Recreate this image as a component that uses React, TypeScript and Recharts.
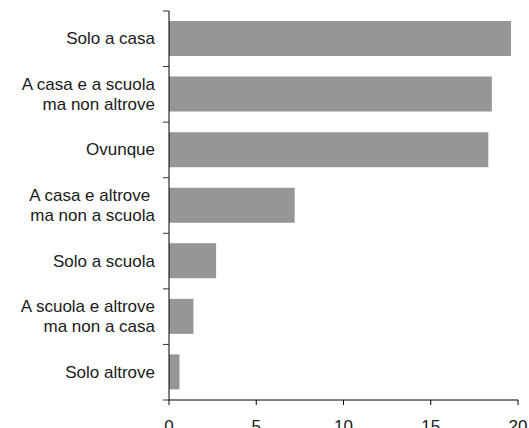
import { BarChart, Bar, XAxis, YAxis } from 'recharts'

const categories = [
  'Solo a casa',
  'A casa e a scuola\nma non altrove',
  'Ovunque',
  'A casa e altrove \nma non a scuola',
  'Solo a scuola',
  'A scuola e altrove\nma non a casa',
  'Solo altrove',
]
const values = [19.6, 18.5, 18.3, 7.2, 2.7, 1.4, 0.6]
const xTicks = [0, 5, 10, 15, 20]

const data = categories.map((name, i) => ({ name, value: values[i] }))

const FONT = '"Liberation Sans", Arial, sans-serif'
const FS = 17
const W = 529
const H = 428
const TOP = 11
const BOTTOM = 28
const TICK_SIZE = 6
const TICK_MARGIN = 8
const BAND = (H - TOP - BOTTOM) / categories.length

function CategoryTick(props: any) {
  const { x, y, payload, index } = props
  const half = BAND / 2
  const lines = String(payload.value).split('\n')
  const lh = 19.5
  const y0 = y - ((lines.length - 1) * lh) / 2
  const ax = x + TICK_MARGIN + TICK_SIZE
  return (
    <g>
      <line x1={ax - TICK_SIZE} x2={ax} y1={y - half} y2={y - half} stroke="#333" />
      {index === categories.length - 1 && (
        <line x1={ax - TICK_SIZE} x2={ax} y1={y + half} y2={y + half} stroke="#333" />
      )}
      <text
        x={x}
        y={y0}
        textAnchor="end"
        fontSize={FS}
        fontFamily={FONT}
        fill="#1a1a1a"
        style={{ whiteSpace: 'pre' }}
      >
        {lines.map((l, i) => (
          <tspan key={i} x={x} dy={i === 0 ? '0.32em' : lh}>
            {l}
          </tspan>
        ))}
      </text>
    </g>
  )
}

export default function App() {
  return (
    <div style={{ position: 'fixed', left: 0, top: 0, width: W, height: H, background: '#fff', overflow: 'hidden' }}>
      <BarChart
        width={W}
        height={H}
        data={data}
        layout="vertical"
        margin={{ top: TOP, right: 11, bottom: 0, left: 0 }}
        style={{ overflow: 'visible' }}
      >
        <XAxis
          type="number"
          domain={[0, 20]}
          ticks={xTicks}
          interval={0}
          height={BOTTOM}
          tickSize={5}
          tickMargin={15}
          axisLine={{ stroke: '#000' }}
          tickLine={{ stroke: '#000' }}
          tick={{ fontSize: FS, fontFamily: FONT, fill: '#1a1a1a' }}
        />
        <YAxis
          type="category"
          dataKey="name"
          width={169}
          interval={0}
          tickSize={TICK_SIZE}
          tickMargin={TICK_MARGIN}
          tickLine={false}
          axisLine={{ stroke: '#000' }}
          tick={<CategoryTick />}
        />
        <Bar dataKey="value" fill="#969696" barSize={35} isAnimationActive={false} />
      </BarChart>
    </div>
  )
}
